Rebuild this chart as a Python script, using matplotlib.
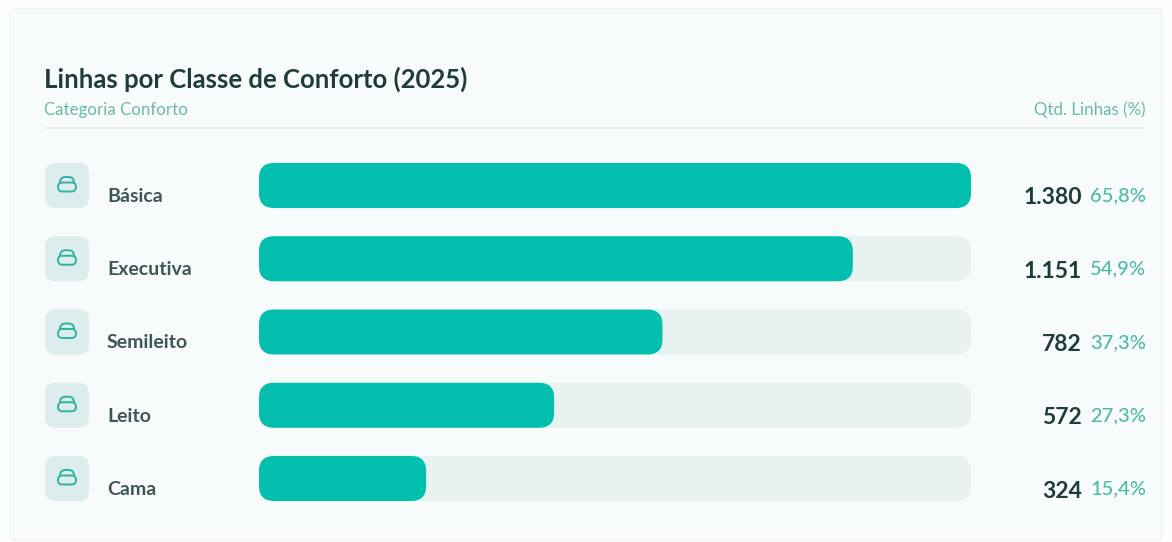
import matplotlib
matplotlib.use("Agg")

import matplotlib.pyplot as plt
from matplotlib.patches import FancyBboxPatch

# Data
categories = ["Básica", "Executiva", "Semileito", "Leito", "Cama"]
lines_qty = [1380, 1151, 782, 572, 324]
lines_pct = [65.8, 54.9, 37.3, 27.3, 15.4]
max_qty = 1380

W, H = 1172, 542
ROW_STEP = 73.25
BAR_H = 45
BAR_TOP = 163

TEAL = "#03BFAD"
TRACK = "#E7F2F1"
ICON_BG = "#DDEDED"
DARK = "#1F3B3D"
LABEL = "#3F5658"
SOFT = "#6DB8AA"
PCT = "#4DBAA9"
ICON = "#2FB3A3"

plt.rcParams["font.family"] = ["Lato", "DejaVu Sans"]

fig = plt.figure(figsize=(W / 100, H / 100), dpi=100, facecolor="#FEFEFE")

# Pixel-space layer for card, header and icons
bg = fig.add_axes([0, 0, 1, 1])
bg.set_xlim(0, W)
bg.set_ylim(H, 0)
bg.axis("off")

bg.add_patch(FancyBboxPatch((10, 9), 1152, 531, boxstyle="round,pad=0,rounding_size=4",
                            fc="#F8FBFB", ec="#F2F5F5", lw=1.2))

bg.text(44, 79, "Linhas por Classe de Conforto (2025)", fontsize=18.5, fontweight="bold",
        color=DARK, va="center", ha="left")
bg.text(44, 110, "Categoria Conforto", fontsize=12.2, color=SOFT, va="center", ha="left")
bg.text(1146, 110, "Qtd. Linhas (%)", fontsize=12.2, color=SOFT, va="center", ha="right")
bg.plot([44, 1146], [128, 128], color="#E2EAEA", lw=1.2, solid_capstyle="butt")

# Bars on their own value scale
bar_left, bar_right = 259, 971
rows_h = ROW_STEP * 4 + BAR_H
ax = fig.add_axes([bar_left / W, 1 - (BAR_TOP + rows_h) / H,
                   (bar_right - bar_left) / W, rows_h / H])
ax.set_xlim(0, max_qty)
pad = BAR_H / 2 / ROW_STEP
ax.set_ylim(len(categories) - 1 + pad, -pad)
ax.axis("off")
ax.patch.set_alpha(0)

bar_h = BAR_H / ROW_STEP
radius_px = 15
rs_x = radius_px * max_qty / (bar_right - bar_left)
aspect = (radius_px / ROW_STEP) / rs_x

def rounded_bar(row, value, color):
    ax.add_patch(FancyBboxPatch((0, row - bar_h / 2), value, bar_h,
                                boxstyle=f"round,pad=0,rounding_size={rs_x}",
                                mutation_aspect=aspect, fc=color, ec="none"))

for i, (name, qty, pct) in enumerate(zip(categories, lines_qty, lines_pct)):
    rounded_bar(i, max_qty, TRACK)
    rounded_bar(i, qty, TEAL)

    cy = BAR_TOP + BAR_H / 2 + i * ROW_STEP

    # Icon tile with a small sofa glyph
    bg.add_patch(FancyBboxPatch((45, cy - 22.5), 44, 45, boxstyle="round,pad=0,rounding_size=10",
                                fc=ICON_BG, ec="none"))
    bg.add_patch(FancyBboxPatch((60, cy - 8.5), 14, 12, boxstyle="round,pad=0,rounding_size=5.5",
                                fc="none", ec=ICON, lw=1.4))
    bg.add_patch(FancyBboxPatch((58, cy - 3), 18, 9, boxstyle="round,pad=0,rounding_size=4.5",
                                fc=ICON_BG, ec=ICON, lw=1.4))

    bg.text(107, cy + 11, name, fontsize=14, fontweight="bold", color=LABEL,
            va="center", ha="left")

    # Right-hand columns
    qty_txt = f"{qty:,}".replace(",", ".")
    pct_txt = f"{pct:.1f}%".replace(".", ",")
    bg.text(1082, cy + 12.5, qty_txt, fontsize=16.5, fontweight="bold", color=DARK,
            va="center", ha="right")
    bg.text(1146, cy + 10.5, pct_txt, fontsize=14.5, fontweight="medium", color=PCT,
            va="center", ha="right")

fig.savefig("out.png", dpi=100, facecolor=fig.get_facecolor())
